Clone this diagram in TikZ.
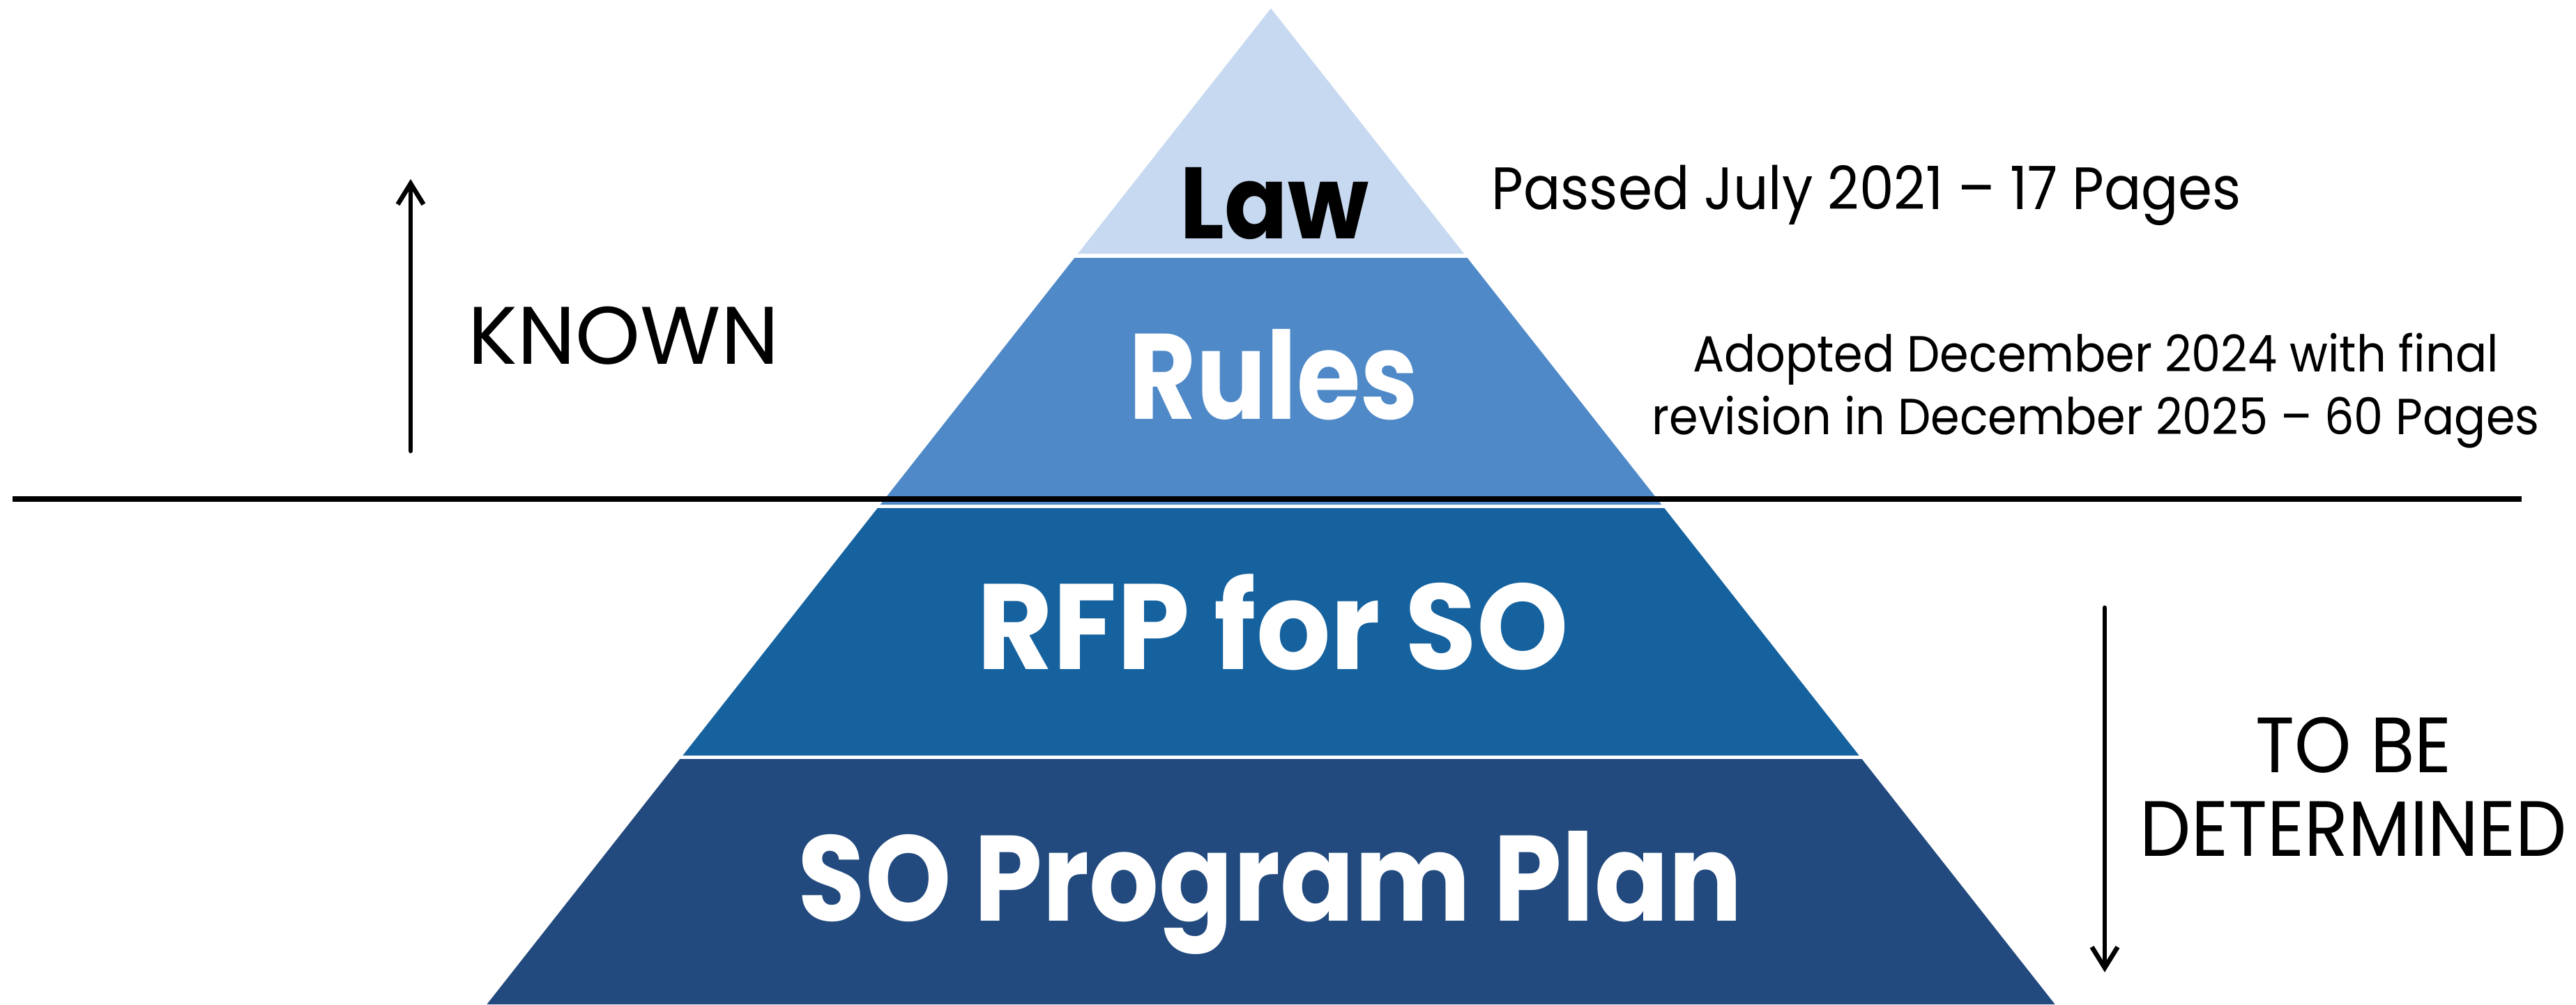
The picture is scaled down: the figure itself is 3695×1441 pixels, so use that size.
\documentclass[tikz,border=0pt]{standalone}
\usepackage{fontspec}
\setmainfont{Poppins}
\usetikzlibrary{arrows.meta}
\definecolor{lawblue}{HTML}{C6D9F0}
\definecolor{rulesblue}{HTML}{4F89C8}
\definecolor{rfpblue}{HTML}{15629F}
\definecolor{planblue}{HTML}{224A7E}

\begin{document}
\begin{tikzpicture}[x=0.01cm, y=-0.01cm,
every edge/.style = {draw, -{Straight Barb[length=8.5pt,width=10.5pt]}, line width=1.9pt, line cap=round, black},
         L/.style = {font=\bfseries\fontsize{49.6}{52}\selectfont\addfontfeature{FakeStretch=#1},
                     text=white, anchor=base, inner sep=0pt},
         T/.style n args = {3}{font=\fontsize{#1}{#2}\selectfont\addfontfeature{FakeStretch=#3},
                     inner sep=0pt, align=center}
                    ]
\useasboundingbox (0,0) rectangle (3695,1441);

% pyramid bands, apex at (1823,12)
\foreach \ya/\yb/\col in {12/364/lawblue, 370/724/rulesblue, 729/1084/rfpblue, 1089/1441/planblue}
  \fill[\col] ({1823-0.787*(\ya-12)},\ya) -- ({1823+0.787*(\ya-12)},\ya)
           -- ({1823+0.787*(\yb-12)},\yb) -- ({1823-0.787*(\yb-12)},\yb) -- cycle;

\node (law)   [L, text=black, font=\bfseries\fontsize{41.4}{44}\selectfont\addfontfeature{FakeStretch=0.92}] at (1828,342) {Law};
\node (rules) [L=0.85] at (1827,601)  {Rules};
\node (rfp)   [L=0.96] at (1826,960)  {RFP for SO};
\node (plan)  [L=0.9]  at (1822,1321) {SO Program Plan};

% divider
\coordinate (divL) at (18,716);
\coordinate (divR) at (3617,716);
\draw[line width=0.08cm] (divL) -- (divR);

% side notes (base = last line)
\node (passed)  [T={24.4}{30}{0.92}, anchor=base west] at (2139,300) {Passed July 2021 – 17 Pages};
\node (adopted) [T={20.7}{25.5}{0.92}, anchor=base] at (3006,623) {Adopted December 2024 with final\\revision in December 2025 – 60 Pages};
\node (known)   [T={33.3}{40}{1.01}, anchor=base west] at (671,522) {KNOWN};
\node (tbd)     [T={32}{34}{0.92}, anchor=base] at (3376,1228) {TO BE\\DETERMINED};

\coordinate (kb) at (589,647);
\coordinate (kt) at (589,257);
\coordinate (dt) at (3019,872);
\coordinate (db) at (3019,1395);
\draw   (kb) edge (kt)
        (dt) edge (db);
\end{tikzpicture}
\end{document}
